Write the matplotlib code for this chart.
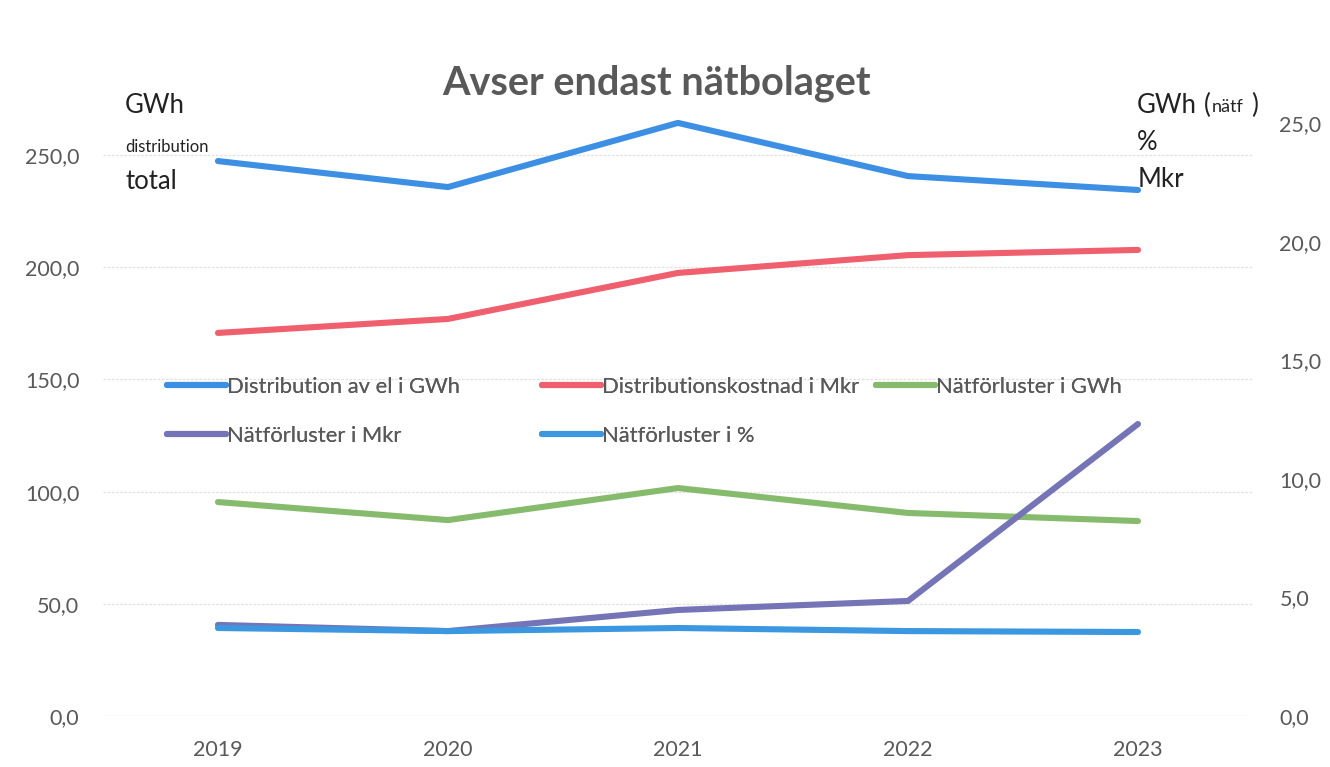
import numpy as np
import matplotlib
matplotlib.use("Agg")
import matplotlib.pyplot as plt
from matplotlib.ticker import FuncFormatter

plt.rcParams['font.family'] = ['Lato', 'DejaVu Sans']

years = ["2019", "2020", "2021", "2022", "2023"]
# left axis (GWh distribution total)
distribution_gwh = [247.3, 235.7, 264.3, 240.6, 234.4]
# right axis (GWh nätf, %, Mkr)
distributionskostnad_mkr = [16.15, 16.74, 18.68, 19.43, 19.65]
natforluster_gwh = [9.02, 8.26, 9.61, 8.56, 8.22]
natforluster_mkr = [3.84, 3.58, 4.47, 4.85, 12.31]
natforluster_pct = [3.71, 3.58, 3.71, 3.58, 3.54]

left_ticks = [0, 50, 100, 150, 200, 250]
right_ticks = [0, 5, 10, 15, 20, 25]

c_blue = "#3d8fe3"
c_red = "#ef5f6e"
c_green = "#86bb6e"
c_purple = "#7474b6"
c_blue2 = "#3b97df"
tick_col = "#595959"

fig = plt.figure(figsize=(13.3, 7.67), dpi=100)
ax = fig.add_axes([0.0774, 0.0665, 0.8647, 0.8031])
ax2 = ax.twinx()

x = np.arange(len(years))
lw = 4.4
l1, = ax.plot(x, distribution_gwh, color=c_blue, lw=lw, solid_capstyle="round",
              label="Distribution av el i GWh", zorder=3)
l2, = ax2.plot(x, distributionskostnad_mkr, color=c_red, lw=lw, solid_capstyle="round",
               label="Distributionskostnad i Mkr")
l3, = ax2.plot(x, natforluster_gwh, color=c_green, lw=lw, solid_capstyle="round",
               label="Nätförluster i GWh")
l4, = ax2.plot(x, natforluster_mkr, color=c_purple, lw=lw, solid_capstyle="round",
               label="Nätförluster i Mkr")
l5, = ax2.plot(x, natforluster_pct, color=c_blue2, lw=lw, solid_capstyle="round",
               label="Nätförluster i %")

ax.set_xlim(-0.5, len(years) - 0.5)
ax.set_ylim(0, 274.5)
ax2.set_ylim(0, 25.97)
ax.set_xticks(x)
ax.set_xticklabels(years)
ax.set_yticks(left_ticks)
ax2.set_yticks(right_ticks)
fmt = FuncFormatter(lambda v, p: f"{v:.1f}".replace(".", ","))
ax.yaxis.set_major_formatter(fmt)
ax2.yaxis.set_major_formatter(fmt)

for a in (ax, ax2):
    for s in a.spines.values():
        s.set_visible(False)
    a.tick_params(length=0, labelsize=15.5, labelcolor=tick_col)
ax.tick_params(axis="y", pad=17)
ax2.tick_params(axis="y", pad=19)
ax.tick_params(axis="x", labelsize=15.5, pad=17)
ax.grid(axis="y", color="#e3e3e3", lw=1, ls=(0, (2, 1)))
ax.set_axisbelow(True)

fig.text(0.494, 0.892, "Avser endast nätbolaget", ha="center", va="center",
         fontsize=28.5, fontweight="bold", color="#595959")

# axis unit labels
fig.text(0.094, 0.862, "GWh", fontsize=18.5, color="#222222", va="center")
fig.text(0.094, 0.808, "distribution", fontsize=12, color="#222222", va="center")
fig.text(0.094, 0.764, "total", fontsize=18.5, color="#222222", va="center")

fig.text(0.855, 0.862, "GWh", fontsize=18.5, color="#222222", va="center")
fig.text(0.905, 0.862, "(", fontsize=18.5, color="#222222", va="center")
fig.text(0.911, 0.860, "nätf", fontsize=13, color="#222222", va="center")
fig.text(0.941, 0.862, ")", fontsize=18.5, color="#222222", va="center")
fig.text(0.855, 0.814, "%", fontsize=18.5, color="#222222", va="center")
fig.text(0.855, 0.766, "Mkr", fontsize=18.5, color="#222222", va="center")

# legend: three columns placed like the original
leg_kw = dict(loc="upper left", frameon=False, fontsize=15.8, handlelength=2.7,
              handletextpad=0.05, labelspacing=1.3, labelcolor=tick_col,
              borderaxespad=0, borderpad=0)
cols = [([l1, l4], 167), ([l2, l5], 542), ([l3], 876)]
for handles, xpix in cols:
    lg = fig.legend(handles=handles, bbox_to_anchor=(xpix / 1330, 1 - 377 / 767), **leg_kw)
    fig.add_artist(lg)

fig.savefig("out.png", dpi=100, facecolor="white")
